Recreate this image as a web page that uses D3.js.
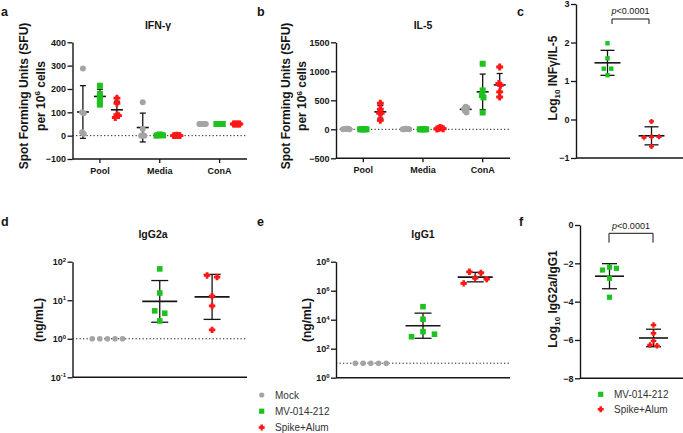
<!DOCTYPE html>
<html><head><meta charset="utf-8">
<script src="https://cdn.jsdelivr.net/npm/d3@7"></script>
<style>
body{margin:0;background:#fff}
svg{display:block}
text{font-family:Arial,"Liberation Sans",sans-serif}
</style>
</head><body>
<svg id="chart" width="683" height="433"></svg>
<script>
// ---------------- DATA ----------------
const groupNames = ["Mock", "MV-014-212", "Spike+Alum"];
const vaccineGroups = ["MV-014-212", "Spike+Alum"];
const stimCats = ["Pool", "Media", "ConA"];

// a: IFN-γ SFU per 10^6 cells, one list per stimulation [Pool, Media, ConA]
const ifngMock  = [[288, 96, 100, 8, 15], [143, 29, 0, 0, 2], [50, 50, 50, 50, 50]];
const ifngMV    = [[214, 179, 164, 150, 133], [5, 3, 2, 1, 0], [50, 50, 50, 50, 50]];
const ifngSpike = [[161, 139, 90, 78, 86], [2, 1, 0, 0, 0], [50, 50, 50, 50, 50]];
// b: IL-5 SFU per 10^6 cells
const il5Mock  = [[10, 6, 3, 0, 8], [5, 3, 0, 8, 2], [390, 370, 350, 320, 290]];
const il5MV    = [[0, 0, 0, 0, 0], [0, 0, 0, 0, 0], [1130, 670, 590, 550, 290]];
const il5Spike = [[345, 448, 281, 275, 155], [30, 20, 15, 10, 5], [1075, 790, 760, 645, 555]];
// c: log10 IFNγ/IL-5
const ratioIfnMV    = [1.98, 1.59, 1.32, 1.32, 1.15];
const ratioIfnSpike = [-0.05, -0.45, -0.45, -0.47, -0.70];
// d: IgG2a (ng/mL)
const igg2aMock  = [1, 1, 1, 1, 1];
const igg2aMV    = [65, 15.4, 5.3, 4.6, 2.9];
const igg2aSpike = [44, 40, 12.8, 7.1, 1.7];
// e: IgG1 (ng/mL)
const igg1Mock  = [10, 10, 10, 10, 10];
const igg1MV    = [79000, 10700, 1500, 1000, 670];
const igg1Spike = [2.0e7, 1.7e7, 7.2e6, 6.3e6, 3.2e6];
// f: log10 IgG2a/IgG1
const ratioIgMV    = [-2.26, -2.20, -2.35, -2.78, -3.77];
const ratioIgSpike = [-5.22, -5.65, -6.05, -6.30, -6.26];

// ticks & labels
const ticksA = [-100, 0, 100, 200, 300, 400];
const ticksB = [-500, 0, 500, 1000, 1500];
const ticksC = [-1, 0, 1, 2, 3];
const ticksD = [0.1, 1, 10, 100];
const ticksE = [1, 1e2, 1e4, 1e6, 1e8];
const ticksF = [-8, -6, -4, -2, 0];
const pText = "p<0.0001";
const lodD = 1, lodE = 10;

// ---------------- DRAWING ----------------
const svg = d3.select("#chart");
const COL = {"Mock": "#a4a4a4", "MV-014-212": "#1ec21e", "Spike+Alum": "#ff1616"};
const INK = "#151515";

function drawMarker(g, name, x, y, s) {
  if (name === "Mock") {
    g.append("circle").attr("cx", x).attr("cy", y).attr("r", s).attr("fill", COL[name]);
  } else if (name === "MV-014-212") {
    g.append("rect").attr("x", x - s).attr("y", y - s).attr("width", 2 * s).attr("height", 2 * s).attr("fill", COL[name]);
  } else {
    const r = s * 1.15, w = r * 0.42;
    const p = `M0,${-r}L${r},0L0,${r}L${-r},0Z` +
      `M${-w},${-r}H${w}V${-w}H${r}V${w}H${w}V${r}H${-w}V${w}H${-r}V${-w}H${-w}Z`;
    g.append("path").attr("d", p).attr("transform", `translate(${x},${y})`).attr("fill", COL[name]);
  }
}

function swarm(vals, y, thr, sp) {
  const idx = vals.map((v, i) => i).sort((a, b) => y(vals[a]) - y(vals[b]));
  const off = new Array(vals.length).fill(0);
  let row = [], y0 = null;
  const flush = () => {
    const n = row.length, shift = n % 2 === 0 ? -sp / 2 : 0;
    row.forEach((id, k) => {
      const m = Math.ceil(k / 2);
      off[id] = (k === 0 ? 0 : (k % 2 ? m : -m) * sp) + shift;
    });
    row = [];
  };
  idx.forEach(i => {
    const py = y(vals[i]);
    if (y0 === null || Math.abs(py - y0) > thr) { if (row.length) flush(); y0 = py; }
    row.push(i);
  });
  if (row.length) flush();
  return off;
}

function stats(vals, log) {
  const t = log ? vals.map(Math.log10) : vals;
  const m = d3.mean(t), s = d3.deviation(t);
  return log ? {m: 10 ** m, lo: 10 ** (m - s), hi: 10 ** (m + s), s}
             : {m, lo: m - s, hi: m + s, s};
}

function group(vals, name, cx, y, o) {
  const g = svg.append("g");
  const st = stats(vals, o.log);
  if (st.s > 1e-9) {
    const b = g.append("g").attr("stroke", INK).attr("fill", "none");
    b.append("line").attr("x1", cx).attr("x2", cx).attr("y1", y(st.lo)).attr("y2", y(st.hi)).attr("stroke-width", 1.3);
    [st.lo, st.hi].forEach(v => b.append("line").attr("x1", cx - o.capW / 2).attr("x2", cx + o.capW / 2)
      .attr("y1", y(v)).attr("y2", y(v)).attr("stroke-width", 1.3));
    b.append("line").attr("x1", cx - o.meanW / 2).attr("x2", cx + o.meanW / 2)
      .attr("y1", y(st.m)).attr("y2", y(st.m)).attr("stroke-width", 1.6);
  }
  const off = swarm(vals, y, o.thr, o.sp);
  vals.forEach((v, i) => drawMarker(g, name, cx + off[i], y(v), o.size));
}

function yAxis(y, x, ticks, fmt) {
  const ax = svg.append("g").attr("transform", `translate(${x},0)`)
    .call(d3.axisLeft(y).tickValues(ticks).tickSize(5).tickSizeOuter(0).tickPadding(1.5).tickFormat(fmt || d3.format("d")));
  ax.select(".domain").attr("stroke", INK).attr("stroke-width", 1.4);
  ax.selectAll(".tick line").attr("stroke", INK).attr("stroke-width", 1.3);
  ax.selectAll("text").attr("font-size", 9).attr("font-weight", "bold").attr("fill", INK)
    .attr("font-family", "Arial, 'Liberation Sans', sans-serif");
  return ax;
}

function logLabels(ax) {
  ax.selectAll(".tick text").each(function(d) {
    const e = Math.round(Math.log10(d));
    const t = d3.select(this).text("");
    t.append("tspan").text("10");
    t.append("tspan").text(String(e)).attr("font-size", 6).attr("dy", -3.5);
  });
}

function xAxis(x0, x1, yPos, tickXs, labels) {
  svg.append("line").attr("x1", x0).attr("x2", x1).attr("y1", yPos).attr("y2", yPos)
    .attr("stroke", INK).attr("stroke-width", 1.4);
  (tickXs || []).forEach((tx, i) => {
    svg.append("line").attr("x1", tx).attr("x2", tx).attr("y1", yPos).attr("y2", yPos + 4)
      .attr("stroke", INK).attr("stroke-width", 1.3);
    svg.append("text").attr("x", tx).attr("y", yPos + 15).attr("text-anchor", "middle")
      .attr("font-size", 9).attr("font-weight", "bold").attr("fill", INK).text(labels[i]);
  });
}

function dotted(x0, x1, yPos) {
  svg.append("line").attr("x1", x0).attr("x2", x1).attr("y1", yPos).attr("y2", yPos)
    .attr("stroke", "#222").attr("stroke-width", 1).attr("stroke-dasharray", "1.3,2.2");
}

function label(txt, x, y, size, opts) {
  const t = svg.append("text").attr("x", x).attr("y", y).attr("font-size", size)
    .attr("font-weight", (opts && opts.normal) ? "normal" : "bold").attr("fill", (opts && opts.fill) || INK)
    .attr("text-anchor", (opts && opts.anchor) || "start");
  if (txt !== null) t.text(txt);
  return t;
}

function rotLabel(x, y, size) {
  return svg.append("text").attr("transform", `translate(${x},${y}) rotate(-90)`)
    .attr("text-anchor", "middle").attr("font-size", size).attr("font-weight", "bold").attr("fill", INK);
}

const YLS = 12;
function sfuLabel(xb1, xb2, yc) {
  rotLabel(xb1, yc, YLS).text("Spot Forming Units (SFU)");
  const t = rotLabel(xb2, yc, YLS);
  t.append("tspan").text("per 10");
  t.append("tspan").text("6").attr("font-size", 8).attr("dy", -4.5);
  t.append("tspan").text(" cells").attr("dy", 4.5);
}

function ratioLabel(x, yc, txt) {
  const t = rotLabel(x, yc, YLS);
  t.append("tspan").text("Log");
  t.append("tspan").text("10").attr("font-size", 8).attr("dy", 3);
  t.append("tspan").text(" " + txt).attr("dy", -3);
}

function bracket(x0, x1, yTop, yBot, ty) {
  svg.append("path").attr("d", `M${x0},${yBot}V${yTop}H${x1}V${yBot}`)
    .attr("fill", "none").attr("stroke", INK).attr("stroke-width", 1);
  const t = svg.append("text").attr("x", (x0 + x1) / 2).attr("y", ty).attr("text-anchor", "middle")
    .attr("font-size", 9).attr("fill", INK);
  t.append("tspan").text(pText.slice(0, 1)).attr("font-style", "italic");
  t.append("tspan").text(pText.slice(1));
}

// ===== Panel a =====
{
  const y = d3.scaleLinear([-100, 400], [159, 42.3]);
  const x = d3.scalePoint(stimCats, [72.5, 247]).padding(0.458);
  const sub = d3.scalePoint(groupNames, [-17, 17]);
  dotted(72.5, 247, y(0));
  const data = {"Mock": ifngMock, "MV-014-212": ifngMV, "Spike+Alum": ifngSpike};
  stimCats.forEach((c, i) => groupNames.forEach(gname =>
    group(data[gname][i], gname, x(c) + sub(gname), y, {thr: 3, sp: 1.6, size: 3, meanW: 12, capW: 6})));
  yAxis(y, 72.5, ticksA);
  xAxis(72.5, 247, 159, stimCats.map(c => x(c)), stimCats);
  label("IFN-γ", 158, 28.5, 10.5, {anchor: "middle"});
  label("a", 1, 15.5, 12.5);
  sfuLabel(28, 44.5, 96);
}
// ===== Panel b =====
{
  const y = d3.scaleLinear([-500, 1500], [158.3, 42.3]);
  const x = d3.scalePoint(stimCats, [336, 510]).padding(0.458);
  const sub = d3.scalePoint(groupNames, [-17, 17]);
  dotted(336, 510, y(0));
  const data = {"Mock": il5Mock, "MV-014-212": il5MV, "Spike+Alum": il5Spike};
  stimCats.forEach((c, i) => groupNames.forEach(gname =>
    group(data[gname][i], gname, x(c) + sub(gname), y, {thr: 3, sp: 1.6, size: 3, meanW: 12, capW: 6})));
  yAxis(y, 336, ticksB);
  xAxis(336, 510, 158.3, stimCats.map(c => x(c)), stimCats);
  label("IL-5", 423, 28.5, 10.5, {anchor: "middle"});
  label("b", 257, 15.5, 12.5);
  sfuLabel(289.5, 306, 96);
}
// ===== Panel c =====
{
  const y = d3.scaleLinear([-1, 3], [158, 4]);
  const x = d3.scalePoint(vaccineGroups, [576, 683]).padding(0.716);
  group(ratioIfnMV, "MV-014-212", x("MV-014-212"), y, {thr: 3, sp: 7.5, size: 2.2, meanW: 26, capW: 14});
  group(ratioIfnSpike, "Spike+Alum", x("Spike+Alum"), y, {thr: 3, sp: 7.5, size: 2.2, meanW: 26, capW: 14});
  yAxis(y, 576, ticksC);
  xAxis(576, 683, 158, null, null);
  bracket(612, 649, 19, 24, 14);
  label("c", 517, 15.5, 12.5);
  ratioLabel(557, 78, "INFγ/IL-5");
}
// ===== Panel d =====
{
  const y = d3.scaleLog([0.1, 100], [377.3, 261.7]);
  const x = d3.scalePoint(groupNames, [72.5, 247]).padding(0.667);
  dotted(72.5, 247, y(lodD));
  const data = {"Mock": igg2aMock, "MV-014-212": igg2aMV, "Spike+Alum": igg2aSpike};
  groupNames.forEach(gname => group(data[gname], gname, x(gname), y,
    {log: true, thr: 4, sp: gname === "Mock" ? 7.6 : 10, size: 2.8, meanW: 35, capW: 17}));
  logLabels(yAxis(y, 72.5, ticksD));
  xAxis(72.5, 247, 377.3, null, null);
  label("IgG2a", 153, 238, 10.5, {anchor: "middle"});
  label("d", 1, 225.5, 12.5);
  rotLabel(43, 320, YLS).text("(ng/mL)");
}
// ===== Panel e =====
{
  const y = d3.scaleLog([1, 1e8], [377.7, 261.7]);
  const x = d3.scalePoint(groupNames, [336, 510]).padding(0.667);
  dotted(336, 510, y(lodE));
  const data = {"Mock": igg1Mock, "MV-014-212": igg1MV, "Spike+Alum": igg1Spike};
  groupNames.forEach(gname => group(data[gname], gname, x(gname), y,
    {log: true, thr: 6, sp: gname === "Mock" ? 7.7 : 11.5, size: 2.8, meanW: 35, capW: 17}));
  logLabels(yAxis(y, 336, ticksE));
  xAxis(336, 510, 377.7, null, null);
  label("IgG1", 423, 238, 10.5, {anchor: "middle"});
  label("e", 257, 225.5, 12.5);
  rotLabel(311, 320, YLS).text("(ng/mL)");
}
// ===== Panel f =====
{
  const y = d3.scaleLinear([-8, 0], [378.3, 225]);
  const x = d3.scalePoint(vaccineGroups, [580, 683]).padding(0.67);
  group(ratioIgMV, "MV-014-212", x("MV-014-212"), y, {thr: 3, sp: 7, size: 2.6, meanW: 29, capW: 15});
  group(ratioIgSpike, "Spike+Alum", x("Spike+Alum"), y, {thr: 3, sp: 7, size: 2.4, meanW: 29, capW: 15});
  yAxis(y, 580, ticksF);
  xAxis(580, 683, 378.3, null, null);
  bracket(609, 653, 233.3, 242.7, 228.5);
  label("f", 519, 225.5, 12.5);
  ratioLabel(557, 299, "IgG2a/IgG1");
}
// ===== Legends =====
{
  const lg = svg.append("g");
  groupNames.forEach((gname, i) => {
    const yy = 395 + i * 16.2;
    drawMarker(lg, gname, 261.7, yy, 2.6);
    label(gname, 275, yy + 3.5, 10, {normal: true, fill: "#333"});
  });
  vaccineGroups.forEach((gname, i) => {
    const yy = 394.3 + i * 15;
    drawMarker(lg, gname, 600.7, yy, 2.6);
    label(gname, 614, yy + 3.5, 10, {normal: true, fill: "#333"});
  });
}
</script>
</body></html>
